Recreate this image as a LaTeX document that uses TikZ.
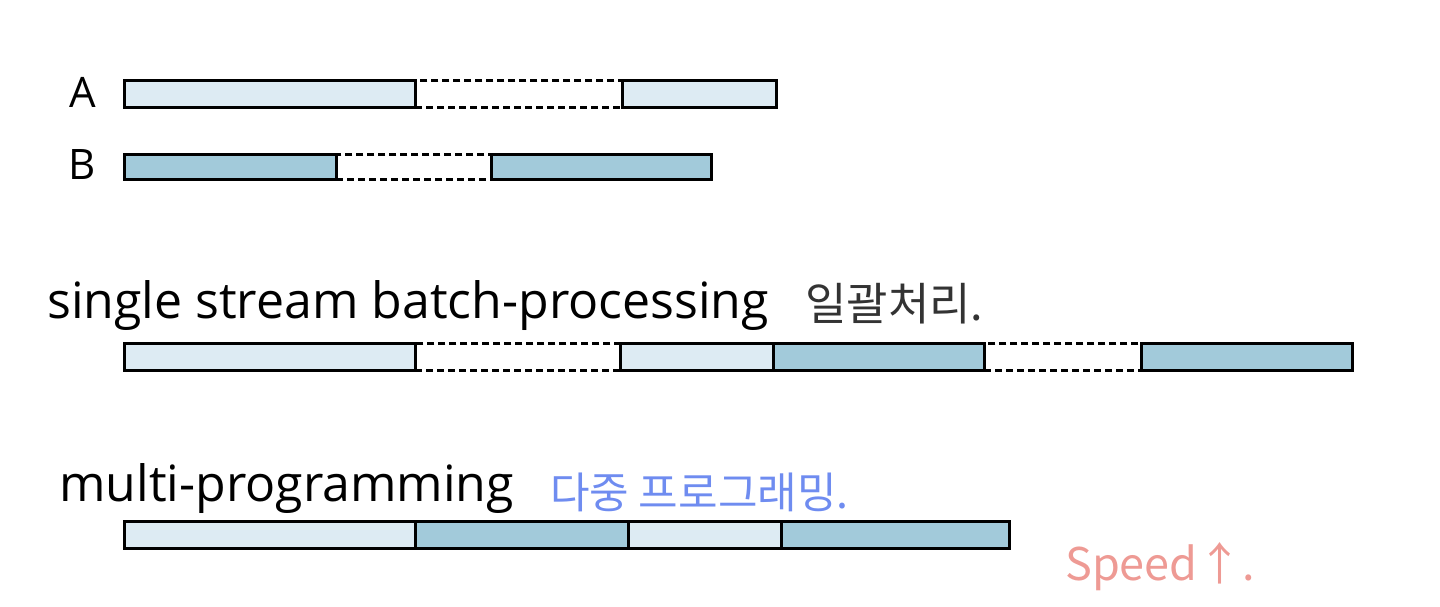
\documentclass[tikz,border=0pt]{standalone}
\usepackage{fontspec}
\setmainfont{Open Sans}
\newfontfamily\kr{Noto Sans CJK KR}
\definecolor{lightjob}{HTML}{DDEBF3}
\definecolor{darkjob}{HTML}{A2CADA}
\definecolor{penblue}{HTML}{6F8CF0}
\definecolor{penpink}{HTML}{EE9A94}
\definecolor{pengray}{HTML}{333333}
\begin{document}
\begin{tikzpicture}[x=1pt,y=-1pt,
  seg/.style={draw=black,line width=3.2pt,inner sep=0pt,anchor=north west,minimum height=27pt},
  jobA/.style={seg,fill=lightjob},
  jobB/.style={seg,fill=darkjob},
  waitseg/.style={draw=black,line width=2.6pt,dash pattern=on 7pt off 4pt,inner sep=0pt,anchor=north west,minimum height=27pt},
  lbl/.style={font=\fontsize{50}{56}\selectfont,inner sep=0pt},
  hand/.style={font=\kr\fontsize{45}{50}\selectfont,inner sep=0pt}]
\useasboundingbox (0,0) rectangle (1440,607);
% Row A
\node[lbl,font=\fontsize{42}{46}\selectfont] (la) at (83,92) {A};
\node[waitseg,minimum width=207pt] (aw) at (414,79) {};
\node[jobA,minimum width=291pt] (a1) at (123,79) {};
\node[jobA,minimum width=154pt] (a2) at (621,79) {};
% Row B
\node[lbl,font=\fontsize{42}{46}\selectfont] (lb) at (82,165) {B};
\node[waitseg,minimum width=155pt,minimum height=25pt] (bw) at (335,153) {};
\node[jobB,minimum width=212pt,minimum height=25pt] (b1) at (123,153) {};
\node[jobB,minimum width=220pt,minimum height=25pt] (b2) at (490,153) {};
% single stream
\node[lbl,anchor=base west] (ls) at (47,318) {single stream batch-processing};
\node[hand,text=pengray,anchor=base west] (hs) at (805,320) {일괄처리.};
\node[waitseg,minimum width=205pt] (sw1) at (414,342) {};
\node[waitseg,minimum width=157pt] (sw2) at (983,342) {};
\node[jobA,minimum width=291pt] (s1) at (123,342) {};
\node[jobA,minimum width=153pt] (s2) at (619,342) {};
\node[jobB,minimum width=211pt] (s3) at (772,342) {};
\node[jobB,minimum width=211pt] (s4) at (1140,342) {};
% multi-programming
\node[lbl,anchor=base west] (lm) at (59,501) {multi-programming};
\node[hand,text=penblue,anchor=base west,font=\kr\fontsize{43}{48}\selectfont] (hm) at (550,508) {다중 프로그래밍.};
\node[jobA,minimum width=291pt] (m1) at (123,520) {};
\node[jobB,minimum width=213pt] (m2) at (414,520) {};
\node[jobA,minimum width=153pt] (m3) at (627,520) {};
\node[jobB,minimum width=228pt] (m4) at (780,520) {};
\node[hand,text=penpink,anchor=base west] (sp) at (1065,580) {Speed↑.};
\end{tikzpicture}
\end{document}
